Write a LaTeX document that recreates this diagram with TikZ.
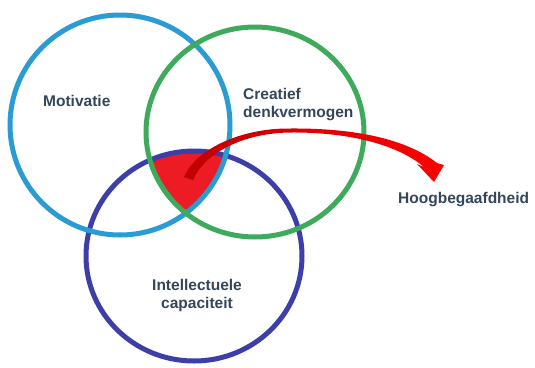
\documentclass[tikz,border=0pt]{standalone}
\usepackage{fontspec}
\setmainfont{Liberation Sans}
\definecolor{cblue}{HTML}{2B9CD3}
\definecolor{cgreen}{HTML}{3DAA5C}
\definecolor{cdblue}{HTML}{3C3FA8}
\definecolor{cred}{HTML}{ED1C24}
\definecolor{ctext}{HTML}{33465A}
\begin{document}
\begin{tikzpicture}[x=1pt,y=-1pt,
  ring/.style={line width=5pt},
  lbl/.style={inner sep=0pt, text=ctext, font=\bfseries\fontsize{15.5}{17.5}\selectfont}]
\useasboundingbox[fill=white] (0,0) rectangle (535,367);
% red intersection
\begin{scope}
  \clip (120,125) ellipse [x radius=110pt, y radius=110pt];
  \clip (255,132) ellipse [x radius=109pt, y radius=105pt];
  \fill[cred] (194,256) ellipse [x radius=108pt, y radius=105pt];
\end{scope}
% circles
\draw[ring, cdblue] (194,256) ellipse [x radius=108pt, y radius=105pt];
\draw[ring, cblue] (120,125) ellipse [x radius=110pt, y radius=110pt];
\draw[ring, cgreen] (255,132) ellipse [x radius=109pt, y radius=105pt];
% arrow
\shade[left color=red!75!black, middle color=red!40!black, right color=red]
  (184,177) .. controls (195,150) and (240,128) .. (290,128.5)
  .. controls (352,128) and (405,138) .. (437,163)
  -- (444,165) -- (434,182) -- (417,164) -- (424,167)
  .. controls (398,145) and (350,132) .. (290,132.5)
  .. controls (245,133) and (205,152) .. (193,180) -- cycle;
% labels
\node[lbl, anchor=base west] (mot) at (43,106) {Motivatie};
\node[lbl, anchor=base west, align=left] (cre) at (243,117) {Creatief\\denkvermogen};
\node[lbl, anchor=base west] (hoog) at (398,203) {Hoogbegaafdheid};
\node[lbl, anchor=base, align=center] (int) at (197,308) {Intellectuele\\capaciteit};
\end{tikzpicture}
\end{document}
